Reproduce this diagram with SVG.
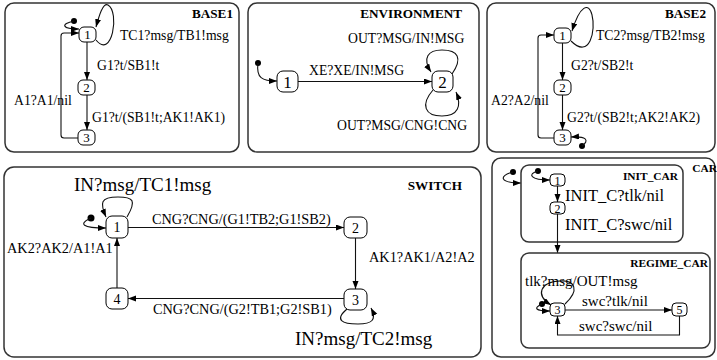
<svg xmlns="http://www.w3.org/2000/svg" width="717" height="360" viewBox="0 0 717 360">
<defs>
<marker id="ah" markerUnits="userSpaceOnUse" markerWidth="10" markerHeight="8" refX="8" refY="3" orient="auto">
<path d="M0,0 L8,3 L0,6 Z" fill="#000"/>
</marker>
<style>
.box{fill:none;stroke:#333;stroke-width:1.5}
.node rect{fill:#fff;stroke:#000;stroke-width:1}
.node text{font-family:"Liberation Serif",serif;text-anchor:middle;fill:#000}
.e{fill:none;stroke:#111;stroke-width:1.1;marker-end:url(#ah)}
.l{font-family:"Liberation Serif",serif;font-size:13.7px;fill:#000}
.t{font-family:"Liberation Serif",serif;font-weight:bold;font-size:13.2px;fill:#000;text-anchor:end}
.dot{fill:#000}
</style>
</defs>
<rect width="717" height="360" fill="#fff"/>

<!-- BASE1 -->
<g id="BASE1">
<rect class="box" x="5" y="3" width="234" height="149" rx="9"/>
<text class="t" x="233" y="18">BASE1</text>
<g id="b1n1" class="node"><rect x="79" y="27" width="17" height="15" rx="5"/><text x="87.5" y="39" font-size="13">1</text></g>
<g id="b1n2" class="node"><rect x="78" y="80" width="17" height="15" rx="5"/><text x="86.5" y="92" font-size="13">2</text></g>
<g id="b1n3" class="node"><rect x="78" y="130" width="17" height="15" rx="5"/><text x="86.5" y="142" font-size="13">3</text></g>
<circle class="dot" cx="74" cy="21" r="3"/>
<g id="b1edges">
<path class="e" d="M87 42 L87 80"/>
<path class="e" d="M87 95 L87 130"/>
<path class="e" d="M78 138 L64 138 Q61 138 61 135 L61 36 Q61 33 64 33 L79 33"/>
<path class="e" d="M74 21 C60 24 62 29 79 29"/>
<path class="e" d="M96 40 C112 60 120 12 108 5 C103 2 99 16 96 27"/>
</g>
<text class="l" x="120" y="40">TC1?msg/TB1!msg</text>
<text class="l" x="97" y="70">G1?t/SB1!t</text>
<text class="l" x="92" y="122">G1?t/(SB1!t;AK1!AK1)</text>
<text class="l" x="14" y="105">A1?A1/nil</text>
</g>

<!-- ENVIRONMENT -->
<g id="ENVIRONMENT">
<rect class="box" x="248" y="3" width="231" height="149" rx="9"/>
<text class="t" x="462" y="18">ENVIRONMENT</text>
<g id="en1" class="node"><rect x="277" y="71" width="21" height="21" rx="6"/><text x="287.5" y="88" font-size="17">1</text></g>
<g id="en2" class="node"><rect x="432" y="71" width="21" height="21" rx="6"/><text x="442.5" y="88" font-size="17">2</text></g>
<circle class="dot" cx="258" cy="63" r="3"/>
<g id="enedges">
<path class="e" d="M258 63 C256 78 262 81 277 81"/>
<path class="e" d="M298 81.5 L432 81.5"/>
<path class="e" d="M452 74 C463 58 458 50 442 50 C428 50 422 58 431 72"/>
<path class="e" d="M433 90 C420 105 425 116 442 116 C458 116 462 106 456 92"/>
</g>
<text class="l" x="309" y="75">XE?XE/IN!MSG</text>
<text class="l" x="348" y="43">OUT?MSG/IN!MSG</text>
<text class="l" x="337" y="130">OUT?MSG/CNG!CNG</text>
</g>

<!-- BASE2 -->
<g id="BASE2">
<rect class="box" x="487" y="3" width="228" height="149" rx="9"/>
<text class="t" x="706" y="18">BASE2</text>
<g id="b2n1" class="node"><rect x="554" y="28" width="17" height="15" rx="5"/><text x="562.5" y="40" font-size="13">1</text></g>
<g id="b2n2" class="node"><rect x="554" y="80" width="17" height="15" rx="5"/><text x="562.5" y="92" font-size="13">2</text></g>
<g id="b2n3" class="node"><rect x="554" y="130" width="17" height="15" rx="5"/><text x="562.5" y="142" font-size="13">3</text></g>
<circle class="dot" cx="582" cy="146" r="3"/>
<g id="b2edges">
<path class="e" d="M562.5 43 L562.5 80"/>
<path class="e" d="M562.5 95 L562.5 130"/>
<path class="e" d="M554 138 L541 138 Q538 138 538 135 L538 38 Q538 35 541 35 L554 35"/>
<path class="e" d="M582 146 C590 140 586 136 571 137"/>
<path class="e" d="M571 41 C590 60 596 30 592 15 C589 2 580 5 572 31"/>
</g>
<text class="l" x="596" y="40">TC2?msg/TB2!msg</text>
<text class="l" x="571" y="70">G2?t/SB2!t</text>
<text class="l" x="567" y="122">G2?t/(SB2!t;AK2!AK2)</text>
<text class="l" x="491" y="105">A2?A2/nil</text>
</g>

<!-- SWITCH -->
<g id="SWITCH">
<rect class="box" x="4" y="167" width="477" height="190" rx="10"/>
<text class="t" x="462" y="190" font-size="14">SWITCH</text>
<g id="sn1" class="node"><rect x="106" y="216" width="22" height="22" rx="6"/><text x="117" y="232" font-size="14">1</text></g>
<g id="sn2" class="node"><rect x="344" y="217" width="23" height="21" rx="6"/><text x="355.5" y="233" font-size="14">2</text></g>
<g id="sn3" class="node"><rect x="344" y="289" width="23" height="21" rx="6"/><text x="355.5" y="305" font-size="14">3</text></g>
<g id="sn4" class="node"><rect x="106" y="288" width="22" height="21" rx="6"/><text x="117" y="304" font-size="14">4</text></g>
<circle class="dot" cx="91" cy="218" r="3.5"/>
<g id="swedges">
<path class="e" d="M128 227.5 L344 227.5"/>
<path class="e" d="M355.5 238 L355.5 289"/>
<path class="e" d="M344 298.5 L128 298.5"/>
<path class="e" d="M117 288 L117 238"/>
<path class="e" d="M127 217 C137 200 133 197 118 197 C100 197 100 203 106 217"/>
<path class="e" d="M91 218 C78 224 82 228 106 228"/>
<path class="e" d="M347 309 C334 320 342 324 358 324 C372 324 377 320 371 308"/>
</g>
<text class="l" x="74" y="191" font-size="19px" style="font-size:19px">IN?msg/TC1!msg</text>
<text class="l" x="152" y="224" style="font-size:14.3px">CNG?CNG/(G1!TB2;G1!SB2)</text>
<text class="l" x="369" y="262" style="font-size:14.3px">AK1?AK1/A2!A2</text>
<text class="l" x="153" y="314" style="font-size:14.3px">CNG?CNG/(G2!TB1;G2!SB1)</text>
<text class="l" x="7" y="253" style="font-size:14.3px">AK2?AK2/A1!A1</text>
<text class="l" x="295" y="345" style="font-size:19px">IN?msg/TC2!msg</text>
</g>

<!-- CAR -->
<g id="CAR">
<rect class="box" x="492" y="158" width="223" height="199" rx="9"/>
<text class="t" x="717" y="172" style="font-size:11.4px">CAR</text>
<circle class="dot" cx="513" cy="172" r="3"/>
<path class="e" d="M513 172 C498 176 500 183 521 183"/>
<g id="INIT_CAR">
<rect class="box" x="521" y="165" width="162" height="77" rx="8"/>
<text class="t" x="678" y="180" style="font-size:11.4px">INIT_CAR</text>
<g id="cn1" class="node"><rect x="550" y="174" width="15" height="12" rx="4"/><text x="557.5" y="184.5" font-size="12">1</text></g>
<g id="cn2" class="node"><rect x="550" y="202" width="15" height="12" rx="4"/><text x="557.5" y="212.5" font-size="12">2</text></g>
<circle class="dot" cx="538" cy="171" r="3"/>
<path class="e" d="M538 171 C527 174 530 180 550 180"/>
<path class="e" d="M557.5 186 L557.5 202"/>
<text class="l" x="565" y="201" style="font-size:16.5px">INIT_C?tlk/nil</text>
<text class="l" x="565" y="230" style="font-size:16.5px">INIT_C?swc/nil</text>
</g>
<path class="e" d="M557.5 214 L557.5 253"/>
<g id="REGIME_CAR">
<rect class="box" x="521" y="253" width="189" height="95" rx="8"/>
<text class="t" x="708" y="267" style="font-size:11.4px">REGIME_CAR</text>
<g id="cn3" class="node"><rect x="550" y="303" width="15" height="13" rx="4"/><text x="557.5" y="314" font-size="12">3</text></g>
<g id="cn5" class="node"><rect x="672" y="303" width="15" height="13" rx="4"/><text x="679.5" y="314" font-size="12">5</text></g>
<circle class="dot" cx="542" cy="304" r="3"/>
<path class="e" d="M542 304 C533 308 535 311 550 311"/>
<path class="e" d="M565 304 C580 290 575 280 560 281 C540 282 535 295 551 305"/>
<path class="e" d="M565 310 L672 310"/>
<path class="e" d="M679.5 316 L679.5 335 L557.5 335 L557.5 316"/>
<text class="l" x="525" y="286" style="font-size:15px">tlk?msg/OUT!msg</text>
<text class="l" x="582" y="306" style="font-size:15px">swc?tlk/nil</text>
<text class="l" x="579" y="331" style="font-size:15px">swc?swc/nil</text>
</g>
</g>
</svg>
